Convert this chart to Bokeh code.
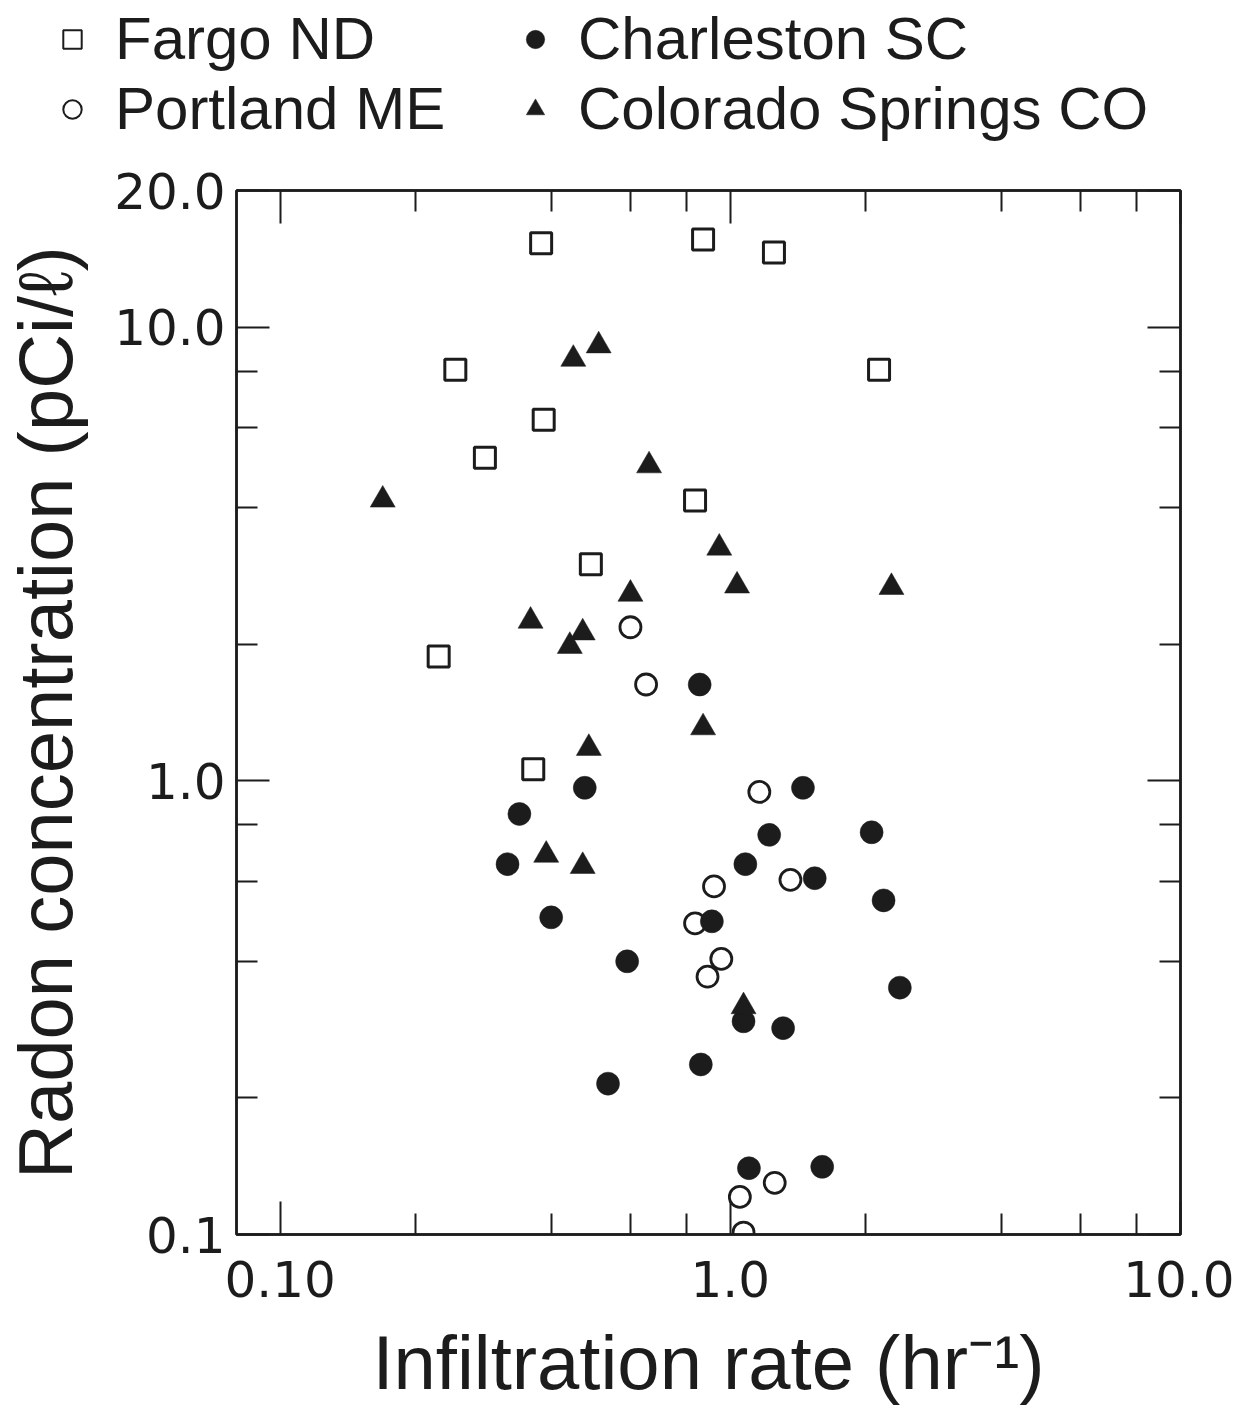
from bokeh.plotting import figure
from bokeh.layouts import column
from bokeh.models import LogAxis, FixedTicker, Legend, LegendItem, CustomJSTickFormatter
from bokeh.embed import file_html
from bokeh.resources import INLINE

# ---------------- data ----------------
fargo_x = [0.38, 0.87, 1.25, 0.245, 2.14, 0.385, 0.285, 0.835, 0.49, 0.225, 0.365]
fargo_y = [15.3, 15.6, 14.6, 8.05, 8.05, 6.25, 5.15, 4.15, 3.0, 1.88, 1.06]

portland_x = [0.60, 0.65, 1.16, 0.92, 1.36, 0.835, 0.955, 0.89, 1.05, 1.255, 1.07]
portland_y = [2.18, 1.63, 0.945, 0.585, 0.605, 0.485, 0.405, 0.37, 0.121, 0.13, 0.101]

charleston_x = [0.855, 1.45, 0.475, 0.34, 1.22, 2.06, 0.32, 1.08, 1.54, 2.19,
                0.40, 0.91, 0.59, 2.38, 1.07, 1.31, 0.86, 0.535, 1.10, 1.60]
charleston_y = [1.63, 0.965, 0.965, 0.845, 0.76, 0.77, 0.655, 0.655, 0.61, 0.545,
                0.50, 0.49, 0.40, 0.35, 0.295, 0.285, 0.237, 0.215, 0.14, 0.141]

colorado_x = [0.169, 0.448, 0.51, 0.66, 0.945, 1.035, 2.28, 0.60, 0.36, 0.47,
              0.44, 0.87, 0.485, 0.39, 0.47, 1.07]
colorado_y = [4.16, 8.5, 9.1, 4.95, 3.26, 2.69, 2.67, 2.58, 2.25, 2.12,
              1.98, 1.31, 1.18, 0.686, 0.648, 0.318]

series_names = ["Fargo ND", "Portland ME", "Charleston SC", "Colorado Springs CO"]

x_ticks = [0.1, 1, 10]
x_tick_labels = ["0.10", "1.0", "10.0"]
x_minor = [0.2, 0.4, 0.6, 0.8, 2, 4, 6, 8]
y_ticks = [0.1, 1, 10, 20]
y_tick_labels = ["0.1", "1.0", "10.0", "20.0"]
y_minor = [0.2, 0.4, 0.6, 0.8, 2, 4, 6, 8]

x_title = "Infiltration rate (hr\u207b\u00b9)"
y_title = "Radon concentration (pCi/\u2113)"

INK = "#1c1c1c"
TEXT_FONT = "Liberation Sans"
TICK_FONT = "DejaVu Sans"

W = 1234
LEG_H = 150
MAIN_H = 1407 - LEG_H

all_x = [fargo_x, portland_x, charleston_x, colorado_x]
all_y = [fargo_y, portland_y, charleston_y, colorado_y]
styles = [
    dict(marker="square", size=21, line_width=3, line_color=INK, fill_color=None),
    dict(marker="circle", size=21, line_width=2.8, line_color=INK, fill_color=None),
    dict(marker="circle", size=23, line_width=0.5, line_color=INK, fill_color=INK),
    dict(marker="triangle", size=25, line_width=0.5, line_color=INK, fill_color=INK),
]
legend_line_widths = [2, 2, 0.5, 0.5]

# ---------------- main figure ----------------
p = figure(width=W, height=MAIN_H, x_axis_type="log", y_axis_type="log",
           x_range=(0.08, 10), y_range=(0.1, 20),
           output_backend="svg", toolbar_location=None,
           min_border_left=235, min_border_right=54,
           min_border_top=190 - LEG_H, min_border_bottom=173)
p.grid.visible = False
p.outline_line_color = INK
p.outline_line_width = 2.5
p.background_fill_color = "white"
p.border_fill_color = "white"

xt = FixedTicker(ticks=x_ticks, minor_ticks=x_minor)
yt = FixedTicker(ticks=y_ticks, minor_ticks=y_minor)

xa = p.xaxis[0]
ya = p.yaxis[0]
xa.ticker = xt
ya.ticker = yt
xa.major_label_overrides = dict(zip(x_ticks, x_tick_labels))
ya.major_label_overrides = dict(zip(y_ticks, y_tick_labels))

blank = CustomJSTickFormatter(code="return ''")
top_ax = LogAxis(ticker=xt, formatter=blank, major_label_standoff=0)
right_ax = LogAxis(ticker=yt, formatter=blank, major_label_standoff=0)
p.add_layout(top_ax, "above")
p.add_layout(right_ax, "right")

for ax in (xa, ya, top_ax, right_ax):
    ax.axis_line_color = INK
    ax.axis_line_width = 2.5
    ax.major_tick_line_color = INK
    ax.minor_tick_line_color = INK
    ax.major_tick_line_width = 2
    ax.minor_tick_line_width = 2
    ax.major_tick_in = 33
    ax.major_tick_out = 0
    ax.minor_tick_in = 21
    ax.minor_tick_out = 0

for ax in (xa, ya):
    ax.major_label_text_font = TICK_FONT
    ax.major_label_text_font_size = "50px"
    ax.major_label_text_color = INK
    ax.axis_label_text_font = TEXT_FONT
    ax.axis_label_text_font_size = "76px"
    ax.axis_label_text_font_style = "normal"
    ax.axis_label_text_color = INK

xa.axis_label = x_title
ya.axis_label = y_title
xa.major_label_standoff = 26
ya.major_label_standoff = 11
xa.axis_label_standoff = 20
ya.axis_label_standoff = 23

for xs, ys, st in zip(all_x, all_y, styles):
    p.scatter(xs, ys, **st)

# ---------------- legend strip above the plot ----------------
lf = figure(width=W, height=LEG_H, x_range=(0, 1), y_range=(0, 1),
            output_backend="svg", toolbar_location=None,
            x_axis_location=None, y_axis_location=None, min_border=0)
lf.grid.visible = False
lf.outline_line_color = None
lf.background_fill_color = "white"
lf.border_fill_color = "white"

for fig in (lf, p):
    try:
        fig.frame_align = False
    except Exception:
        pass

items = []
for name, xs, ys, st, lw in zip(series_names, all_x, all_y, styles, legend_line_widths):
    st2 = dict(st)
    st2["line_width"] = lw
    r = lf.scatter(xs, ys, visible=False, **st2)   # legend keys only
    items.append(LegendItem(label=name, renderers=[r]))

legend = Legend(items=items, orientation="vertical", ncols=2,
                location=(49, LEG_H - 143),
                glyph_width=46, glyph_height=46, label_standoff=20,
                label_width=396, spacing=1, padding=0, margin=0,
                border_line_color=None, background_fill_alpha=0,
                inactive_fill_alpha=0,
                label_text_font=TEXT_FONT, label_text_font_size="60px",
                label_text_color=INK)
lf.add_layout(legend)

layout = column(lf, p, spacing=0)
open("out.html", "w").write(file_html(layout, INLINE))
